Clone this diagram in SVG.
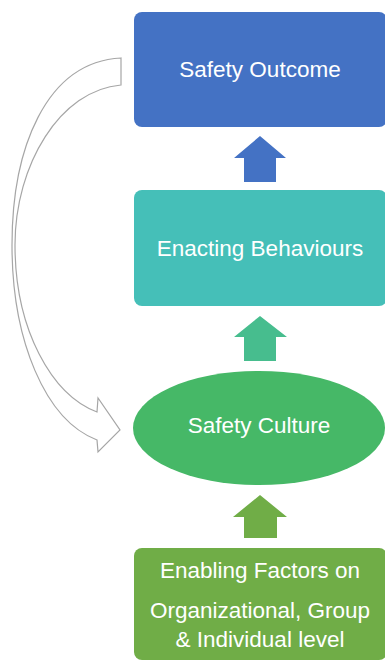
<svg xmlns="http://www.w3.org/2000/svg" width="385" height="661" viewBox="0 0 385 661">
<style>
.lbl{font-family:"Liberation Sans",Arial,sans-serif;font-size:22.5px;fill:#ffffff;text-anchor:middle}
.loop{fill:#ffffff;stroke:#a6a6a6;stroke-width:1.2}
</style>
<rect width="385" height="661" fill="#ffffff"/>
<g id="connectors">
<path class="loop" d="M121,58 C45,62 12,150 12,245 C12,340 45,420 97,440 L98,452 L120,430 L98,398 L97,412 C52,395 15,330 15,245 C15,165 60,90 121,85 Z"/>
<polygon points="260,136 286,158 276,158 276,182 244,182 244,158 234,158" fill="#4472c4"/>
<polygon points="260,316 287,337 276,337 276,361 244,361 244,337 234,337" fill="#47bd8e"/>
<polygon points="260,495 287,517 277,517 277,538 244,538 244,517 233,517" fill="#70ad47"/>
</g>
<g id="safety-outcome">
<rect x="134" y="12" width="253" height="115" rx="8" fill="#4472c4"/>
<text class="lbl" x="260" y="77">Safety Outcome</text>
</g>
<g id="enacting-behaviours">
<rect x="134" y="190" width="253" height="116" rx="8" fill="#45bfb8"/>
<text class="lbl" x="260" y="256">Enacting Behaviours</text>
</g>
<g id="safety-culture">
<ellipse cx="259" cy="428" rx="126" ry="57" fill="#46b867"/>
<text class="lbl" x="259" y="433">Safety Culture</text>
</g>
<g id="enabling-factors">
<rect x="134" y="548" width="253" height="112" rx="8" fill="#70ad47"/>
<text class="lbl" x="260" y="578">Enabling Factors on</text>
<text class="lbl" x="260" y="618">Organizational, Group</text>
<text class="lbl" x="260" y="647">&amp; Individual level</text>
</g>
</svg>
